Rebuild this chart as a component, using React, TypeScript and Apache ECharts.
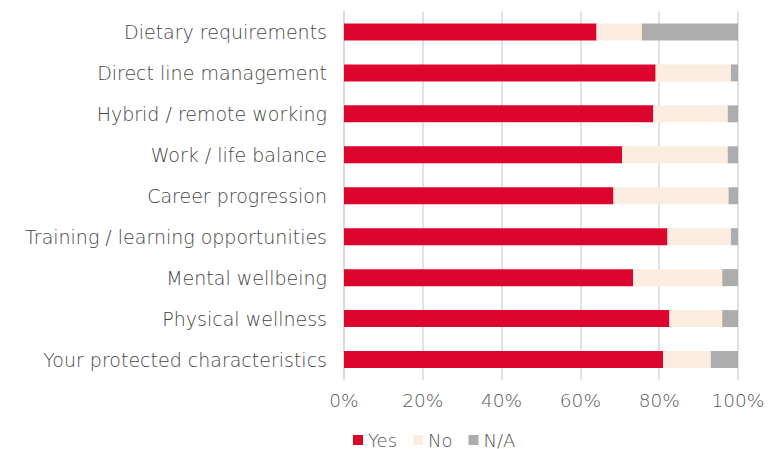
import React, { useEffect, useRef } from "react";
import * as echarts from "echarts";

const categories = [
  "Dietary requirements",
  "Direct line management",
  "Hybrid / remote working",
  "Work / life balance",
  "Career progression",
  "Training / learning opportunities",
  "Mental wellbeing",
  "Physical wellness",
  "Your protected characteristics",
];
const yesValues = [64.1, 79.1, 78.5, 70.6, 68.4, 82.1, 73.4, 82.6, 81.0];
const noValues = [11.5, 19.1, 18.9, 26.8, 29.2, 16.1, 22.6, 13.4, 12.1];
const naValues = [24.4, 1.8, 2.6, 2.6, 2.4, 1.8, 4.0, 4.0, 6.9];
const xTicks = [0, 20, 40, 60, 80, 100];

const FONT = "'DejaVu Sans', sans-serif";

export default function App() {
  const ref = useRef<HTMLDivElement>(null);
  useEffect(() => {
    const chart = echarts.init(ref.current!, null, { renderer: "svg" });
    const mk = (name: string, data: number[], color: string) => ({
      name,
      type: "bar",
      stack: "total",
      data,
      barWidth: 17,
      itemStyle: { color },
    });
    chart.setOption({
      animation: false,
      grid: { left: 344, right: 30, top: 11.5, bottom: 69, containLabel: false },
      legend: {
        left: 353,
        top: 431,
        padding: 0,
        itemWidth: 10,
        itemHeight: 10,
        itemGap: 16,
        icon: "rect",
        textStyle: { color: "#505050", fontSize: 18, fontFamily: FONT, fontWeight: 200 },
        data: ["Yes", "No", "N/A"],
      },
      xAxis: {
        type: "value",
        min: xTicks[0],
        max: xTicks[xTicks.length - 1],
        interval: 20,
        axisLine: { show: false },
        axisTick: { show: false },
        splitLine: { show: true, lineStyle: { color: "#d9d9d9", width: 1.5 } },
        axisLabel: {
          formatter: "{value}%",
          color: "#585858",
          fontSize: 18.5,
          fontFamily: FONT,
          fontWeight: 200,
          margin: 11,
        },
      },
      yAxis: {
        type: "category",
        inverse: true,
        data: categories,
        axisLine: { show: true, lineStyle: { color: "#d9d9d9", width: 1.5 } },
        axisTick: { show: false },
        axisLabel: {
          color: "#454545",
          fontSize: 19,
          fontFamily: FONT,
          fontWeight: 200,
          margin: 17,
        },
      },
      series: [
        mk("Yes", yesValues, "#dc052d"),
        mk("No", noValues, "#fbede0"),
        mk("N/A", naValues, "#adadad"),
      ],
    });
    return () => chart.dispose();
  }, []);
  return <div ref={ref} style={{ width: 768, height: 449, position: "absolute", left: 0, top: 0 }} />;
}
